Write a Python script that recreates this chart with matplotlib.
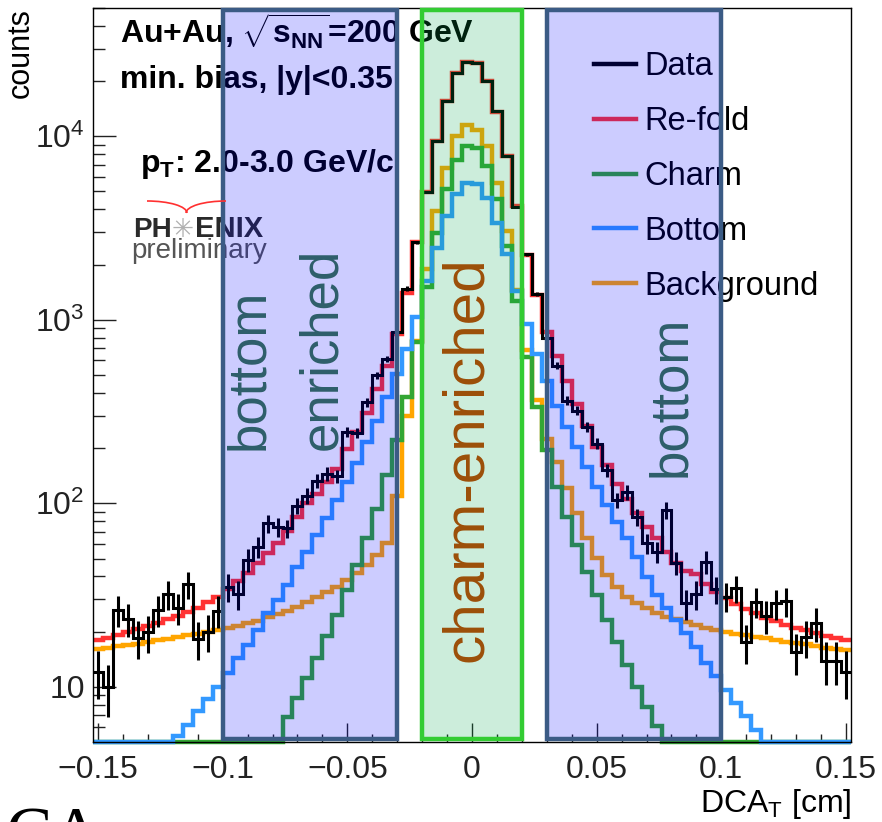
"""DCA_T distribution with charm / bottom decomposition (PHENIX-style)."""

import numpy as np
import matplotlib
matplotlib.use("Agg")
import matplotlib.pyplot as plt
from matplotlib.patches import Rectangle, Arc
from matplotlib.lines import Line2D
from matplotlib.ticker import MultipleLocator, LogLocator, FuncFormatter, NullFormatter
from matplotlib.transforms import IdentityTransform

plt.rcParams["font.family"] = ["Liberation Sans", "DejaVu Sans"]
plt.rcParams["mathtext.fontset"] = "custom"
plt.rcParams["mathtext.rm"] = "Liberation Sans"
plt.rcParams["mathtext.it"] = "Liberation Sans:italic"
plt.rcParams["mathtext.bf"] = "Liberation Sans:bold"

# binning: 76 bins of 0.004 cm
BIN_LO, BIN_HI, N_BINS = -0.152, 0.152, 76
YMIN, YMAX = 5, 5e4

data = [12.1, 10.0, 26.2, 23.5, 18.5, 19.8, 26.2, 32.0, 27.0, 36.2, 18.2, 20.0, 26.0, 35.0, 32.0,
        49.0, 58.0, 78.0, 74.0, 73.0, 97.0, 110.0, 132.0,
        145, 140, 244, 241, 355, 497, 610, 860,
        1480, 2650, 4950, 9400, 15500, 22100, 25500, 25000, 19900, 13700, 7800, 4110, 2275, 1380, 800,
        562, 363, 320, 260, 211, 151, 104, 115, 84.3, 60.4, 54.4, 91.7, 47.3, 28.5, 32.0,
        48, 34, 31, 34.5, 17.5, 29, 24.3, 28.5, 29.3, 15.5, 18.6, 22.3, 13.9, 13.9, 12.1]

refold = [18.0, 18.5, 19.2, 19.9, 20.6, 21.5, 22.3, 23.3, 24.3, 25.6, 27.0, 29.0, 31.0, 34.0, 37.5, 41.5,
          47, 53.5, 60.5, 71, 84, 100, 113, 131, 154, 198, 244, 312, 420, 560, 840,
          1400, 2650, 4950, 9400, 15500, 22100, 25500, 25000, 19900, 13600, 7800, 4150, 2260, 1370, 860,
          637, 466, 348, 265, 202, 162, 128, 106, 88, 74.3, 65, 54.4, 47.3, 43, 41,
          36.5, 33, 30.3, 28.3, 26.6, 25.1, 23.8, 22.7, 21.8, 21.0, 20.3, 19.7, 19.0, 18.5, 18.0]

charm = [0.3, 0.4, 0.5, 0.6, 0.7, 0.9, 1.0, 1.2, 1.4, 1.6, 1.9, 2.2, 2.5, 2.8, 3.1, 3.4, 3.8, 4.2, 4.7,
         6.8, 8.67, 11.1, 14.3, 18.8, 24.6, 33.7, 46.0, 64.8, 93.6, 142, 220, 378,
         753, 1500, 2985, 5130, 7470, 8820, 8640, 6870, 4530, 2520, 1270, 624, 334,
         194, 123, 84.3, 59.1, 42.4, 31.6, 23.1, 17.6, 13.2, 10.0, 7.8, 6.1,
         4.7, 4.2, 3.8, 3.4, 3.1, 2.8, 2.5, 2.2, 1.9, 1.6, 1.4, 1.2, 1.0, 0.9, 0.7, 0.6, 0.5, 0.4, 0.3]

bottom = [2.6, 2.9, 3.2, 3.5, 3.8, 4.1, 4.4, 4.7,
          5.37, 6.2, 7.34, 8.57, 10.0, 11.9, 14.4, 16.8,
          20.4, 25.1, 29.7, 35.8, 45.1, 54.4, 67.0, 82.6, 104, 131, 166, 215, 282, 378, 507, 693,
          1030, 1630, 2470, 3670, 4820, 5570, 5500, 4620, 3380, 2275, 1440, 946, 650, 466,
          341, 260, 202, 157, 123, 97.5, 79.2, 64.3, 51.1, 39.7, 31.6, 26.8, 23.1, 19.6, 16.4,
          13.4, 11.4, 9.6, 8.15, 6.9, 5.8,
          4.9, 4.4, 4.0, 3.6, 3.3, 3.0, 2.7, 2.5, 2.3]

background = [16.0, 16.3, 16.6, 16.9, 17.2, 17.5, 17.9, 18.3, 18.7, 19.1, 19.5, 20.0, 20.4, 20.9, 21.5,
              22.2, 22.9, 23.9, 24.9, 26.0, 27.3, 29.1, 31.0, 33.0, 35.1, 38.2, 41.5, 46.0, 52.1, 60.4,
              110, 300, 770, 1890, 3910, 6730, 10000, 11480, 10870, 8820, 5570, 3050, 1450, 680, 365, 224,
              168, 121, 88, 64.5, 50.2, 40.6, 35.1, 31.0, 28.5, 26.8, 25.1, 24.1, 23.3,
              22.4, 21.6, 21.0, 20.4, 19.9, 19.5, 19.1, 18.7, 18.4, 18.0, 17.6, 17.3, 17.0, 16.6, 16.3, 16.0, 15.8]

bottom_windows = [(-0.10, -0.03), (0.03, 0.10)]
charm_window = (-0.02, 0.02)

labels = ["Data", "Re-fold", "Charm", "Bottom", "Background"]
colors = {"Data": "black", "Re-fold": "#ff3333", "Charm": "#33a633",
          "Bottom": "#3399ff", "Background": "#ffa500"}

edges = np.linspace(BIN_LO, BIN_HI, N_BINS + 1)
centers = 0.5 * (edges[:-1] + edges[1:])

fig = plt.figure(figsize=(8.82, 8.22), dpi=100)
ax = fig.add_axes([93 / 882, 80 / 822, 758 / 882, 734 / 822])
ax.set_yscale("log")

# models (values below the frame are drawn on the frame, ROOT-like)
for name, vals, z in [("Background", background, 2.0), ("Charm", charm, 2.1),
                      ("Bottom", bottom, 2.2), ("Re-fold", refold, 2.3)]:
    ax.stairs(np.maximum(vals, YMIN), edges, baseline=None, color=colors[name],
              lw=3.2, zorder=z, clip_on=False)

d = np.array(data)
err = np.sqrt(d)
ax.stairs(d, edges, baseline=None, color="black", lw=2.2, zorder=3)
ax.vlines(centers, d - err, d + err, color="black", lw=2.2, zorder=3)

ax.set_xlim(BIN_LO, BIN_HI)
ax.set_ylim(YMIN, YMAX)

# ticks
ax.xaxis.set_major_locator(MultipleLocator(0.05))
ax.xaxis.set_minor_locator(MultipleLocator(0.01))
ax.xaxis.set_major_formatter(FuncFormatter(lambda v, p: ("%g" % round(v, 3)).replace("-", "\u2212")))
ax.yaxis.set_major_locator(LogLocator(base=10))
ax.yaxis.set_minor_locator(LogLocator(base=10, subs=np.arange(2, 10)))
ax.yaxis.set_minor_formatter(NullFormatter())
ax.yaxis.set_major_formatter(FuncFormatter(
    lambda v, p: "10" if abs(v - 10) < 1e-6 else r"$10^{%d}$" % round(np.log10(v))))
ax.tick_params(which="both", direction="in", top=False, right=False, width=1, colors="#222222")
ax.tick_params(axis="x", which="major", length=14, labelsize=23, pad=9)
ax.tick_params(axis="x", which="minor", length=6)
ax.tick_params(axis="y", which="major", length=16.5, labelsize=23, pad=6)
ax.tick_params(axis="y", which="minor", length=8.5)
for sp in ax.spines.values():
    sp.set_linewidth(1.0)

ax.set_xlabel(r"DCA$_{\rm T}$ [cm]", loc="right", fontsize=23, labelpad=2)
ax.set_ylabel("counts", loc="top", fontsize=22, labelpad=-0.5)

# legend
handles = [Line2D([], [], color=colors[n], lw=3.2) for n in labels]
ax.legend(handles, labels, loc="upper left", bbox_to_anchor=(0.661, 0.941), frameon=False,
          fontsize=23.5, handlelength=1.3, handletextpad=0.25, labelspacing=0.73,
          borderpad=0, borderaxespad=0)

# annotations
ax.text(0.0356, 0.952, r"Au+Au, $\sqrt{\mathbf{s}_{\mathbf{NN}}}$=200 GeV", transform=ax.transAxes,
        fontsize=23, fontweight="bold", va="baseline")
ax.text(0.0356, 0.891, "min. bias, |y|<0.35", transform=ax.transAxes,
        fontsize=23, fontweight="bold", va="baseline")
ax.text(0.062, 0.776, r"p$_{\mathbf{T}}$: 2.0-3.0 GeV/c", transform=ax.transAxes,
        fontsize=23, fontweight="bold", va="baseline")
ax.text(0.0528, 0.688, "PH", transform=ax.transAxes, fontsize=20, fontweight="bold",
        color="#2a2a2a", va="baseline")
ax.text(0.1187, 0.688, "\u2733", transform=ax.transAxes, fontsize=19, color="#b0b0b0",
        va="baseline", ha="center", family=["DejaVu Sans"])
ax.text(0.1346, 0.688, "ENIX", transform=ax.transAxes, fontsize=21, fontweight="bold",
        color="#2a2a2a", va="baseline")
ax.text(0.051, 0.659, "preliminary", transform=ax.transAxes, fontsize=20, color="#555555",
        va="baseline")
fig.add_artist(Arc((147, 822 - 213), 80, 24, theta1=0, theta2=90, color="#ff3030", lw=1.2,
                   transform=IdentityTransform()))
fig.add_artist(Arc((226, 822 - 213), 80, 24, theta1=90, theta2=180, color="#ff3030", lw=1.2,
                   transform=IdentityTransform()))

# selection windows (drawn over the curves)
trans = ax.get_xaxis_transform()
for lo, hi in bottom_windows:
    ax.add_patch(Rectangle((lo, 0.004), hi - lo, 0.993, transform=trans, facecolor="blue",
                           alpha=0.2, edgecolor="none", zorder=6, clip_on=False))
    ax.add_patch(Rectangle((lo, 0.004), hi - lo, 0.993, transform=trans, fill=False,
                           edgecolor="#3b5b85", lw=3.2, zorder=6.5, clip_on=False))
lo, hi = charm_window
ax.add_patch(Rectangle((lo, 0.004), hi - lo, 0.993, transform=trans, facecolor="#00a64d",
                       alpha=0.2, edgecolor="none", zorder=6, clip_on=False))
ax.add_patch(Rectangle((lo, 0.004), hi - lo, 0.993, transform=trans, fill=False,
                       edgecolor="#33cc33", lw=3.2, zorder=6.5, clip_on=False))

kw = dict(transform=trans, rotation=90, rotation_mode="anchor", ha="left", va="center", zorder=7)
ax.text(-0.0892, 0.398, "bottom", fontsize=38, color="#2e5e6a", **kw)
ax.text(-0.0600, 0.398, "enriched", fontsize=38, color="#2e5e6a", **kw)
ax.text(-0.0020, 0.109, "charm-enriched", fontsize=42, color="#9c4f08", **kw)
ax.text(0.0800, 0.361, "bottom", fontsize=38, color="#2e5e6a", **kw)

fig.text(0.006, 0.018, "CA", family="Liberation Serif", fontsize=50, va="top")

fig.savefig("out.png", dpi=100)
